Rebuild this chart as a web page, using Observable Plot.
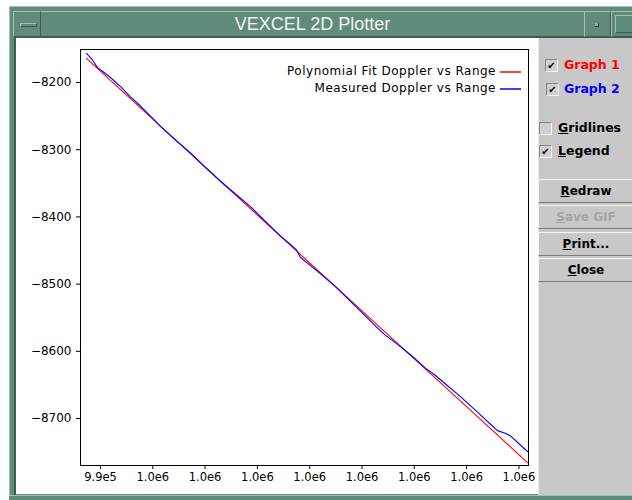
<!DOCTYPE html>
<html><head><meta charset="utf-8">
<script src="https://cdn.jsdelivr.net/npm/d3@7"></script>
<script src="https://cdn.jsdelivr.net/npm/@observablehq/plot@0.6"></script>
<style>
html,body{margin:0;padding:0;background:#fff;width:632px;height:500px;overflow:hidden;position:relative;}
.a{position:absolute;box-sizing:border-box;}
.bev{border-top:1px solid #a3c0b3;border-left:1px solid #a3c0b3;border-bottom:1px solid #3c5d4f;border-right:1px solid #3c5d4f;}
.gbev{border-top:1px solid #f6f6f6;border-left:1px solid #f6f6f6;border-bottom:1px solid #7d7d7d;border-right:1px solid #7d7d7d;}
.cb{width:13px;height:13px;background:#d0d0d0;border-top:1px solid #858585;border-left:1px solid #858585;border-bottom:1px solid #f4f4f4;border-right:1px solid #f4f4f4;font:bold 10px "DejaVu Sans";line-height:11px;text-align:center;color:#000;}
.lbl{font:bold 12.5px "DejaVu Sans";line-height:14px;white-space:nowrap;}
.btn{left:538px;width:100px;height:24px;font:bold 12px "DejaVu Sans";line-height:22px;text-align:left;padding-left:0;background:#c8c8c8;}
.btn span{position:absolute;left:0;width:94px;text-align:center;}
.leg{font:12px "DejaVu Sans";letter-spacing:0.5px;white-space:nowrap;text-align:right;line-height:14px;color:#000;}
.sw{height:2px;width:21px;}
</style></head>
<body>
<div class="a" style="left:9px;top:6px;width:640px;height:494px;background:#618b79;border-top:1px solid #a3c0b3;border-left:1px solid #a3c0b3;"></div>
<div class="a bev" style="left:13px;top:11px;width:640px;height:26px;background:#618b79;"></div>
<div class="a bev" style="left:13px;top:11px;width:28px;height:26px;background:#618b79;"></div>
<div class="a bev" style="left:20px;top:23px;width:17px;height:4px;background:#618b79;"></div>
<div class="a" style="left:41px;top:11px;width:543px;height:26px;text-align:center;font:18px 'Liberation Sans';line-height:26px;color:#f2f2f2;">VEXCEL 2D Plotter</div>
<div class="a bev" style="left:584px;top:11px;width:27px;height:26px;background:#618b79;"></div>
<div class="a" style="left:595px;top:23px;width:4px;height:4px;background:#8fae9f;border-right:1px solid #2f4a3e;border-bottom:1px solid #2f4a3e;"></div>
<div class="a bev" style="left:611px;top:11px;width:30px;height:26px;background:#618b79;"></div>
<div class="a bev" style="left:615px;top:15px;width:22px;height:18px;background:#618b79;"></div>
<div class="a" style="left:14px;top:37px;width:620px;height:463px;border-left:2px solid #3c5d4f;border-top:1px solid #3c5d4f;"></div>
<div class="a" style="left:16px;top:38px;width:522px;height:456px;background:#fff;"></div>
<div class="a" style="left:538px;top:38px;width:94px;height:457px;background:#c8c8c8;border-left:1px solid #e8e8e8;"></div>
<div class="a" style="left:9px;top:495px;width:623px;height:5px;background:#618b79;border-top:1px solid #a3c0b3;"></div>

<div id="chart" class="a" style="left:16px;top:38px;"></div>

<div class="a cb" style="left:545px;top:59px;">&#10004;</div>
<div class="a lbl" style="left:564px;top:58px;color:#ff0000;">Graph 1</div>
<div class="a cb" style="left:546px;top:83px;">&#10004;</div>
<div class="a lbl" style="left:564px;top:82px;color:#0000ff;">Graph 2</div>
<div class="a cb" style="left:539px;top:122px;"></div>
<div class="a lbl" style="left:558px;top:121px;color:#000;"><u>G</u>ridlines</div>
<div class="a cb" style="left:539px;top:145px;">&#10004;</div>
<div class="a lbl" style="left:558px;top:144px;color:#000;"><u>L</u>egend</div>

<div class="a btn gbev" style="top:179px;"><span><u>R</u>edraw</span></div>
<div class="a btn gbev" style="top:205px;color:#a4a4a4;"><span><u>S</u>ave GIF</span></div>
<div class="a btn gbev" style="top:232px;"><span><u>P</u>rint...</span></div>
<div class="a btn gbev" style="top:258px;"><span><u>C</u>lose</span></div>

<div id="legend"></div>

<script>
const seriesNames = ["Polynomial Fit Doppler vs Range", "Measured Doppler vs Range"];
const seriesColors = ["#ff0000", "#0000ff"];

const fitRange = [988660, 995000, 1000000, 1005000, 1010000, 1015000, 1020000, 1025000, 1030820];
const fitDoppler = [-8164.0, -8254.6, -8325.9, -8397.2, -8468.6, -8539.9, -8611.2, -8682.4, -8765.5];

const measRange = [988662, 989235, 989713, 990191, 990956, 991912, 992868, 993824, 994780, 995736,
  997170, 998604, 1000038, 1001472, 1002906, 1004340, 1005774, 1007208, 1008164, 1008738,
  1009120, 1010076, 1011032, 1012466, 1013900, 1015334, 1016290, 1017246, 1018202, 1019158,
  1020114, 1021070, 1022026, 1022982, 1024416, 1026041, 1027284, 1027953, 1028622, 1029196,
  1029960, 1030820];
const measDoppler = [-8156.8, -8166.5, -8177.8, -8183.2, -8192.6, -8206.1, -8221.3, -8235.0, -8250.0, -8265.2,
  -8285.6, -8304.6, -8326.5, -8346.9, -8365.9, -8384.8, -8406.8, -8428.7, -8440.9, -8449.1,
  -8460.4, -8472.6, -8484.7, -8503.7, -8525.6, -8547.6, -8562.6, -8576.3, -8587.1, -8599.1,
  -8611.5, -8625.0, -8636.0, -8648.6, -8667.5, -8690.4, -8708.5, -8718.0, -8721.5, -8725.9,
  -8736.8, -8749.1];

const xTicks = [990000, 995000, 1000000, 1005000, 1010000, 1015000, 1020000, 1025000, 1030000];
const xTickLabels = ["9.9e5", "1.0e6", "1.0e6", "1.0e6", "1.0e6", "1.0e6", "1.0e6", "1.0e6", "1.0e6"];
const yTicks = [-8200, -8300, -8400, -8500, -8600, -8700];
const yTickLabels = ["\u22128200", "\u22128300", "\u22128400", "\u22128500", "\u22128600", "\u22128700"];

const data = [
  ...fitRange.map((r, i) => ({series: seriesNames[0], range: r, doppler: fitDoppler[i]})),
  ...measRange.map((r, i) => ({series: seriesNames[1], range: r, doppler: measDoppler[i]}))
];

const chart = Plot.plot({
  width: 522, height: 456,
  marginLeft: 64, marginTop: 11, marginRight: 10, marginBottom: 29,
  style: {fontFamily: "DejaVu Sans", fontSize: "12px", color: "#000", background: "transparent", overflow: "visible"},
  x: {domain: [988088, 1030917]},
  y: {domain: [-8769.9, -8150.9]},
  color: {domain: seriesNames, range: seriesColors},
  marks: [
    Plot.axisX({ticks: xTicks, tickFormat: d => xTickLabels[xTicks.indexOf(d)], tickSize: 4, tickPadding: 3, label: null, fontSize: 11.5}),
    Plot.axisY({ticks: yTicks, tickFormat: d => yTickLabels[yTicks.indexOf(d)], tickSize: 4, tickPadding: 5, label: null, fontSize: 12}),
    Plot.line(data, {x: "range", y: "doppler", z: "series", stroke: "series", strokeWidth: 1.1}),
    Plot.frame({stroke: "#000"})
  ]
});
document.getElementById("chart").appendChild(chart);

const legend = document.getElementById("legend");
seriesNames.forEach((name, i) => {
  const t = document.createElement("div");
  t.className = "a leg";
  t.style.right = (632 - 496) + "px";
  t.style.top = (64 + i * 17) + "px";
  t.textContent = name;
  legend.appendChild(t);
  const s = document.createElement("div");
  s.className = "a sw";
  s.style.left = "500px";
  s.style.top = (70.5 + i * 17) + "px";
  s.style.background = seriesColors[i];
  s.style.opacity = "0.75";
  legend.appendChild(s);
});
</script>
</body></html>
